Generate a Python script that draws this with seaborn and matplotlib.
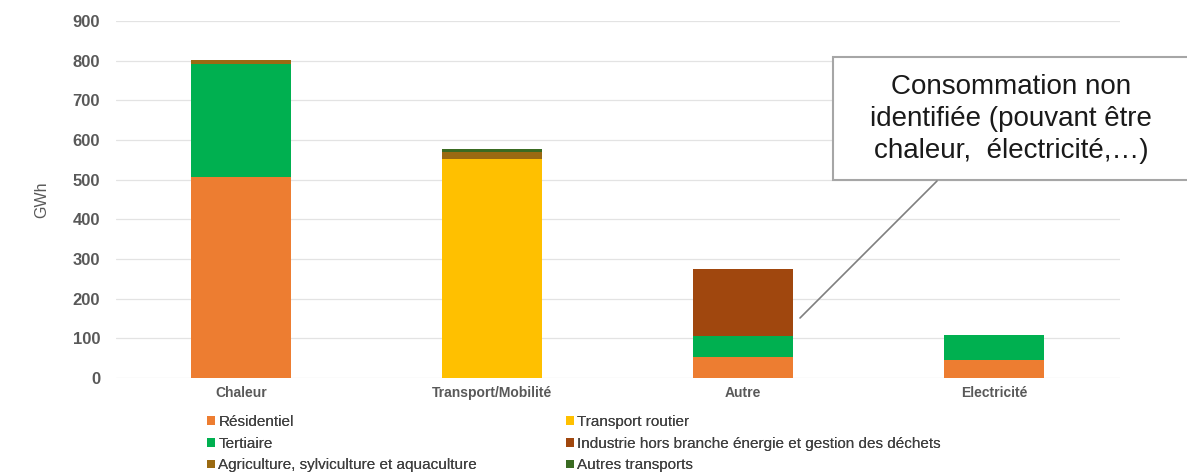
import numpy as np
import pandas as pd
import matplotlib
matplotlib.use("Agg")
import matplotlib.pyplot as plt
from matplotlib.patches import Patch, Rectangle
from matplotlib.lines import Line2D
import seaborn as sns

# Usages (x axis)
usages = ["Chaleur", "Transport/Mobilité", "Autre", "Electricité"]

# Consumption by sector and usage, in GWh
residentiel = [507, 0, 53, 45]
tertiaire = [284, 0, 53, 63]
transport_routier = [0, 553, 0, 0]
industrie = [0, 0, 169, 0]
agriculture = [10, 18, 0, 0]
autres_transports = [0, 6, 0, 0]

# Stacking order, bottom to top
layers = [
    ("Résidentiel", residentiel, "#ED7D31"),
    ("Tertiaire", tertiaire, "#00B050"),
    ("Transport routier", transport_routier, "#FFC000"),
    ("Industrie hors branche énergie et gestion des déchets", industrie, "#A0470E"),
    ("Agriculture, sylviculture et aquaculture", agriculture, "#9A6A12"),
    ("Autres transports", autres_transports, "#3A6B22"),
]

yticks = list(range(0, 1000, 100))
ylabel = "GWh"
note = "Consommation non\nidentifiée (pouvant être\nchaleur,  électricité,…)"

sns.set_theme(style="white")
plt.rcParams["font.family"] = ["Liberation Sans", "DejaVu Sans"]

W, H = 1187, 472
fig = plt.figure(figsize=(W / 100, H / 100), dpi=100)
ax = fig.add_axes([115.5 / W, 94 / H, 1004 / W, 357 / H])

# Stacked bars: draw cumulative totals from the top layer down
cum = np.cumsum(np.array([vals for _, vals, _ in layers], dtype=float), axis=0)
for i in range(len(layers) - 1, -1, -1):
    df = pd.DataFrame({"usage": usages, "GWh": cum[i]})
    sns.barplot(data=df, x="usage", y="GWh", order=usages, color=layers[i][2],
                saturation=1, width=0.4, linewidth=0, errorbar=None, ax=ax)

ax.set_ylim(0, 900)
ax.set_xlim(-0.5, len(usages) - 0.5)
ax.set_yticks(yticks)
ax.set_yticklabels([str(t) for t in yticks], fontsize=12, fontweight="bold", color="#595959")
ax.set_xticks(range(len(usages)))
ax.set_xticklabels(usages, fontsize=10, fontweight="bold", color="#595959")
ax.tick_params(axis="y", length=0, pad=11)
ax.tick_params(axis="x", length=0, pad=6)
ax.set_xlabel("")
ax.set_ylabel(ylabel, fontsize=11.5, color="#595959", labelpad=17)
ax.yaxis.grid(True, color="#E3E3E3", linewidth=0.9)
ax.set_axisbelow(True)
for s in ax.spines.values():
    s.set_visible(False)

# Legend in two columns
handles = [Patch(facecolor=c, edgecolor="none", label=n) for n, _, c in layers]
col1 = [handles[0], handles[1], handles[4]]
col2 = [handles[2], handles[3], handles[5]]
for hs, x0 in ((col1, 207 / W), (col2, 566 / W)):
    leg = fig.legend(handles=hs, loc="upper left", bbox_to_anchor=(x0, 1 - 415 / H),
                     frameon=False, fontsize=11, handlelength=0.5, handleheight=0.5,
                     handletextpad=0.25, labelspacing=0.5, borderpad=0, borderaxespad=0)
    for t in leg.get_texts():
        t.set_color("#404040")
    fig.add_artist(leg)

# Callout box with leader line
box = Rectangle((833 / W, 1 - 180 / H), (1195 - 833) / W, (180 - 57) / H,
                transform=fig.transFigure, facecolor="white", edgecolor="#A6A6A6",
                linewidth=1.5, zorder=5)
fig.add_artist(box)
fig.add_artist(Line2D([937 / W, 800 / W], [1 - 181 / H, 1 - 318 / H],
                      transform=fig.transFigure, color="#7F7F7F", linewidth=1.2, zorder=5))
fig.text(1011 / W, 1 - 119 / H, note, ha="center", va="center", fontsize=20,
         color="#1A1A1A", linespacing=1.32, zorder=6)

fig.savefig("out.png", dpi=100)
